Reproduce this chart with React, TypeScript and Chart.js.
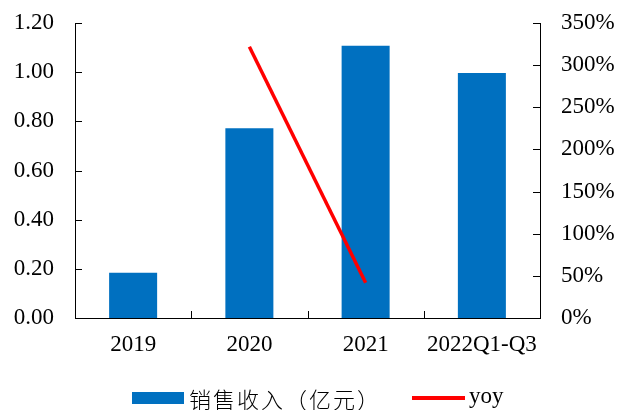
import React, { useEffect, useRef } from "react";
import { Chart, registerables } from "chart.js";

Chart.register(...registerables);

const categories = ["2019", "2020", "2021", "2022Q1-Q3"];
const salesRevenue = [0.184, 0.772, 1.107, 0.997];
const yoyGrowth: (number | null)[] = [null, 321.9, 41.9, null];
const leftAxis = { min: 0, max: 1.2, step: 0.2 };
const rightAxis = { min: 0, max: 350, step: 50 };
const legendLabels = ["销售收入（亿元）", "yoy"];

const BAR_COLOR = "#0070C0";
const LINE_COLOR = "#FF0000";
const SERIF = "'Liberation Serif', 'Times New Roman', serif";
const FONT_SIZE = 23;

const innerTicks = {
  id: "innerTicks",
  afterDraw(chart: any) {
    const { ctx, chartArea } = chart;
    const { left, right, bottom } = chartArea;
    const yl = chart.scales.y;
    const yr = chart.scales.y1;
    const len = 7;
    ctx.save();
    ctx.strokeStyle = "#000";
    ctx.lineWidth = 1;
    ctx.beginPath();
    yl.ticks.forEach((t: any) => {
      const py = Math.round(yl.getPixelForValue(t.value)) + 0.5;
      ctx.moveTo(left, py);
      ctx.lineTo(left + len, py);
    });
    yr.ticks.forEach((t: any) => {
      const py = Math.round(yr.getPixelForValue(t.value)) + 0.5;
      ctx.moveTo(right, py);
      ctx.lineTo(right - len, py);
    });
    const n = categories.length;
    for (let i = 1; i < n; i++) {
      const px = Math.round(left + ((right - left) * i) / n) + 0.5;
      ctx.moveTo(px, bottom);
      ctx.lineTo(px, bottom - len);
    }
    ctx.stroke();
    ctx.restore();
  },
};

function zeroPad(scale: any) {
  scale.paddingTop = 0;
  scale.paddingBottom = 0;
  scale.paddingLeft = 0;
  scale.paddingRight = 0;
}

export default function App() {
  const ref = useRef<HTMLCanvasElement | null>(null);

  useEffect(() => {
    if (!ref.current) return;
    const chart = new Chart(ref.current, {
      type: "bar",
      data: {
        labels: categories,
        datasets: [
          {
            type: "line",
            label: legendLabels[1],
            data: yoyGrowth,
            yAxisID: "y1",
            borderColor: LINE_COLOR,
            backgroundColor: LINE_COLOR,
            borderWidth: 3.5,
            pointRadius: 0,
            spanGaps: false,
            order: 0,
          } as any,
          {
            type: "bar",
            label: legendLabels[0],
            data: salesRevenue,
            yAxisID: "y",
            backgroundColor: BAR_COLOR,
            borderWidth: 0,
            barPercentage: 0.413,
            categoryPercentage: 1,
            order: 1,
          },
        ],
      },
      plugins: [innerTicks],
      options: {
        responsive: false,
        animation: false,
        layout: { padding: { top: 23, bottom: 0, left: 0, right: 0 } },
        plugins: {
          legend: { display: false },
          tooltip: { enabled: false },
        },
        scales: {
          x: {
            grid: { display: false, drawTicks: false },
            border: { display: true, color: "#000", width: 1 },
            ticks: {
              color: "#000",
              font: { family: SERIF, size: FONT_SIZE },
              padding: 13,
              maxRotation: 0,
              autoSkip: false,
            },
            afterFit(scale: any) {
              scale.height = 92;
              zeroPad(scale);
            },
          },
          y: {
            position: "left",
            min: leftAxis.min,
            max: leftAxis.max,
            grid: { display: false, drawTicks: false },
            border: { display: true, color: "#000", width: 1 },
            ticks: {
              stepSize: leftAxis.step,
              color: "#000",
              font: { family: SERIF, size: FONT_SIZE },
              padding: 21,
              callback: (v: any) => Number(v).toFixed(2),
            },
            afterFit(scale: any) {
              scale.width = 75;
              zeroPad(scale);
            },
          },
          y1: {
            position: "right",
            min: rightAxis.min,
            max: rightAxis.max,
            grid: { display: false, drawTicks: false },
            border: { display: true, color: "#000", width: 1 },
            ticks: {
              stepSize: rightAxis.step,
              color: "#000",
              font: { family: SERIF, size: FONT_SIZE },
              padding: 21,
              callback: (v: any) => `${v}%`,
            },
            afterFit(scale: any) {
              scale.width = 78;
              zeroPad(scale);
            },
          },
        },
      },
    });
    return () => chart.destroy();
  }, []);

  return (
    <div style={{ position: "absolute", left: 0, top: 0, width: 618, height: 410, background: "#fff" }}>
      <canvas ref={ref} width={618} height={410} style={{ position: "absolute", left: 0, top: 0 }} />
      <div style={{ position: "absolute", left: 132, top: 392, width: 52, height: 12, background: BAR_COLOR }} />
      <span
        style={{
          position: "absolute",
          left: 189,
          top: 385,
          lineHeight: "26px",
          fontSize: 22,
          letterSpacing: "2px",
          fontFamily: "'Noto Sans CJK SC', sans-serif",
          fontWeight: 300,
          color: "#000",
          whiteSpace: "nowrap",
        }}
      >
        {legendLabels[0]}
      </span>
      <div style={{ position: "absolute", left: 412, top: 396, width: 53, height: 4, background: LINE_COLOR }} />
      <span
        style={{
          position: "absolute",
          left: 469,
          top: 383,
          lineHeight: "26px",
          fontSize: FONT_SIZE,
          fontFamily: SERIF,
          color: "#000",
          whiteSpace: "nowrap",
        }}
      >
        {legendLabels[1]}
      </span>
    </div>
  );
}
